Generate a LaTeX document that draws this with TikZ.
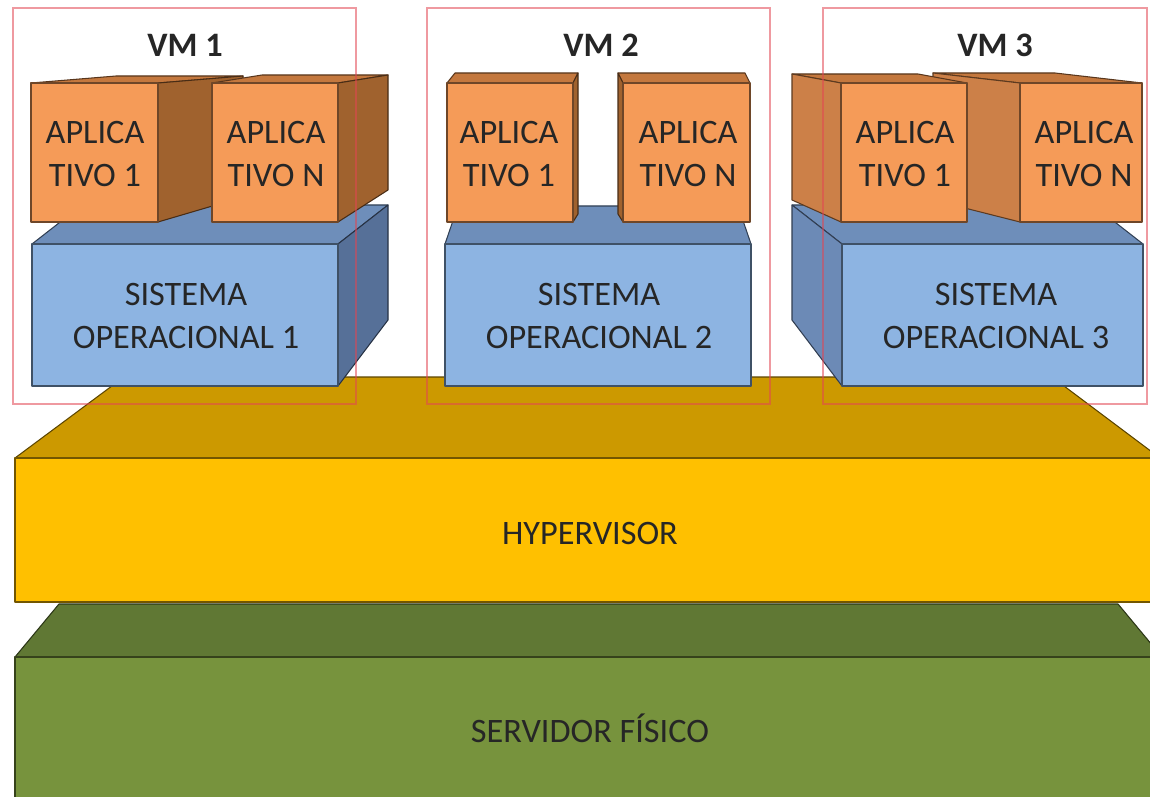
\documentclass[tikz,border=0pt]{standalone}
\usepackage{fontspec}
\setmainfont{Carlito}
\usepackage{tikz}
\usetikzlibrary{calc}
\definecolor{appfront}{RGB}{245,155,88}
\definecolor{apptop}{RGB}{196,120,62}
\definecolor{appside}{RGB}{160,98,46}
\definecolor{appsidelt}{RGB}{204,128,72}
\definecolor{sofront}{RGB}{141,180,226}
\definecolor{sotop}{RGB}{110,142,186}
\definecolor{soside}{RGB}{86,112,152}
\definecolor{sosidelt}{RGB}{108,138,182}
\definecolor{hypfront}{RGB}{255,192,0}
\definecolor{hyptop}{RGB}{204,153,0}
\definecolor{srvfront}{RGB}{119,147,61}
\definecolor{srvtop}{RGB}{96,120,52}
\definecolor{vmframe}{RGB}{226,70,82}
\def\fsize{\fontsize{19.5}{24}\selectfont}

\begin{document}
\begin{tikzpicture}[x=0.02cm,y=-0.02cm,
    face/.style={fill=#1,draw=#1!45!black,line width=0.6pt,line join=round},
    lbl/.style={align=center,font=\fsize,text=black!85},
    vm/.style={draw=vmframe,draw opacity=0.55,line width=1.4pt}]
        \useasboundingbox (0,0) rectangle (1150,797);
        \clip (0,0) rectangle (1150,797);
        % servidor
        \draw[face=srvtop] (15,657) -- (59,604) -- (1118,604) -- (1162,657) -- cycle;
        \draw[face=srvfront] (15,657) rectangle (1165,810);
        \node[lbl] (srv) at (590,728) {SERVIDOR FÍSICO};
        % hypervisor
        \draw[face=hyptop] (15,458) -- (124,377) -- (1052,377) -- (1160,458) -- cycle;
        \draw[face=hypfront] (15,458) rectangle (1160,602);
        \node[lbl] (hyp) at (590,533) {HYPERVISOR};
        % VM 1
        \draw[face=sotop] (32,244) -- (82,205) -- (388,205) -- (338,244) -- cycle;
        \draw[face=soside] (338,244) -- (388,205) -- (388,320) -- (338,386) -- cycle;
        \draw[face=sofront] (32,244) rectangle (338,386);
        \node[lbl] (so1) at (186,316) {SISTEMA\\OPERACIONAL 1};
        \draw[face=apptop] (31,83) -- (116,76) -- (243,76) -- (158,83) -- cycle;
        \draw[face=appside] (158,83) -- (243,76) -- (243,197) -- (158,222) -- cycle;
        \draw[face=appfront] (31,83) rectangle (158,222);
        \node[lbl] (app11) at (95,154) {APLICA\\TIVO 1};
        \draw[face=apptop] (212,83) -- (262,75) -- (388,75) -- (338,83) -- cycle;
        \draw[face=appside] (338,83) -- (388,75) -- (388,190) -- (338,222) -- cycle;
        \draw[face=appfront] (212,83) rectangle (338,222);
        \node[lbl] (app1n) at (276,154) {APLICA\\TIVO N};
        % VM 2
        \draw[face=sotop] (445,244) -- (458,206) -- (738,206) -- (751,244) -- cycle;
        \draw[face=sofront] (445,244) rectangle (751,386);
        \node[lbl] (so2) at (599,316) {SISTEMA\\OPERACIONAL 2};
        \draw[face=apptop] (447,83) -- (455,73) -- (578,73) -- (573,83) -- cycle;
        \draw[face=appside] (573,83) -- (578,73) -- (578,214) -- (573,222) -- cycle;
        \draw[face=appfront] (447,83) rectangle (573,222);
        \node[lbl] (app21) at (509,154) {APLICA\\TIVO 1};
        \draw[face=apptop] (623,83) -- (618,73) -- (745,73) -- (750,83) -- cycle;
        \draw[face=appside] (623,83) -- (618,73) -- (618,214) -- (623,222) -- cycle;
        \draw[face=appfront] (623,83) rectangle (750,222);
        \node[lbl] (app2n) at (688,154) {APLICA\\TIVO N};
        % VM 3
        \draw[face=sotop] (842,244) -- (792,205) -- (1093,205) -- (1143,244) -- cycle;
        \draw[face=sosidelt] (842,244) -- (792,205) -- (792,320) -- (842,386) -- cycle;
        \draw[face=sofront] (842,244) rectangle (1143,386);
        \node[lbl] (so3) at (996,316) {SISTEMA\\OPERACIONAL 3};
        \draw[face=apptop] (1020,83) -- (933,73) -- (1055,73) -- (1142,83) -- cycle;
        \draw[face=appsidelt] (1020,83) -- (933,73) -- (933,200) -- (1020,222) -- cycle;
        \draw[face=appfront] (1020,83) rectangle (1142,222);
        \node[lbl] (app3n) at (1084,154) {APLICA\\TIVO N};
        \draw[face=apptop] (841,83) -- (792,74) -- (918,74) -- (967,83) -- cycle;
        \draw[face=appsidelt] (841,83) -- (792,74) -- (792,200) -- (841,222) -- cycle;
        \draw[face=appfront] (841,83) rectangle (967,222);
        \node[lbl] (app31) at (905,154) {APLICA\\TIVO 1};
        % frames
        \foreach \n/\xa/\xb/\xc in {1/13/356/185, 2/427/770/601, 3/823/1147/995} {
            \draw[vm] (\xa,8) rectangle (\xb,404);
            \node[lbl,font=\fsize\bfseries] (vm\n) at (\xc,45) {VM \n};
        }
    \end{tikzpicture}
\end{document}
